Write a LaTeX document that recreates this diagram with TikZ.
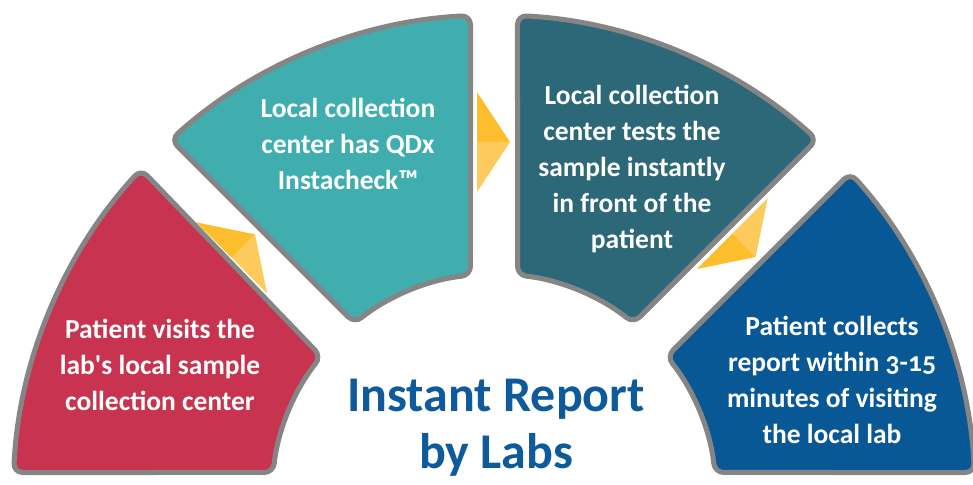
\documentclass[tikz,border=0pt]{standalone}
\usepackage{fontspec}
\setmainfont{Carlito}[Numbers=OldStyle]

\definecolor{segred}{HTML}{C8334F}
\definecolor{segteal}{HTML}{40AEAE}
\definecolor{segdark}{HTML}{2C6878}
\definecolor{segblue}{HTML}{085896}
\definecolor{seggray}{HTML}{858585}
\definecolor{arrowdark}{HTML}{FDBE2E}
\definecolor{arrowlight}{HTML}{FDCA5C}
\definecolor{titleblue}{HTML}{0E5A9A}

\tikzset{
	segment/.style = {draw = seggray, line width = 5pt, rounded corners = 9pt},
	steptext/.style = {text = white, font = \bfseries\fontsize{27.5}{35.8}\selectfont, align = center},
}

\begin{document}
\begin{tikzpicture}[x = 1pt, y = 1pt]
					\useasboundingbox (-494, 12) rectangle (479, 496);
					\fill[arrowdark, rotate = 45] (-17, 404)--(16, 354)--(-17, 354)--cycle;
					\fill[arrowlight, rotate = 45] (-17, 304)--(16, 354)--(-17, 354)--cycle;
					\fill[arrowdark] (-17, 404)--(16, 354)--(-17, 354)--cycle;
					\fill[arrowlight] (-17, 304)--(16, 354)--(-17, 354)--cycle;
					\fill[arrowlight, rotate = -45] (-17, 404)--(16, 354)--(-17, 354)--cycle;
					\fill[arrowdark, rotate = -45] (-17, 304)--(16, 354)--(-17, 354)--cycle;
					\draw[segment, fill = segred] (137.2:481) arc [start angle = 137.2, end angle = 177.2, radius = 481]--(173.92:222) arc [start angle = 173.92, end angle = 141.08, radius = 222]--cycle;
					\draw[segment, fill = segteal] (92.8:481) arc [start angle = 92.8, end angle = 132.2, radius = 481]--(128.92:222) arc [start angle = 128.92, end angle = 96.08, radius = 222]--cycle;
					\draw[segment, fill = segdark] (47.8:481) arc [start angle = 47.8, end angle = 87.2, radius = 481]--(83.92:222) arc [start angle = 83.92, end angle = 51.08, radius = 222]--cycle;
					\draw[segment, fill = segblue] (2.8:481) arc [start angle = 2.8, end angle = 42.2, radius = 481]--(38.92:222) arc [start angle = 38.92, end angle = 6.08, radius = 222]--cycle;
					\node[steptext] (visit) at (-334, 131) {Patient visits the\\lab\textquotesingle s local sample\\collection center};
					\node[steptext] (has) at (-146, 352) {Local collection\\center has QDx\\Instacheck™};
					\node[steptext] (tests) at (138, 327) {Local collection\\center tests the\\sample instantly\\in front of the\\patient};
					\node[steptext] (collect) at (338, 116) {Patient collects\\report within 3-15\\minutes of visiting\\the local lab};
					\node[text = titleblue, font = \bfseries\fontsize{50}{57}\selectfont, align = center] (title) at (2, 68) {Instant Report\\by Labs};
				\end{tikzpicture}
\end{document}
